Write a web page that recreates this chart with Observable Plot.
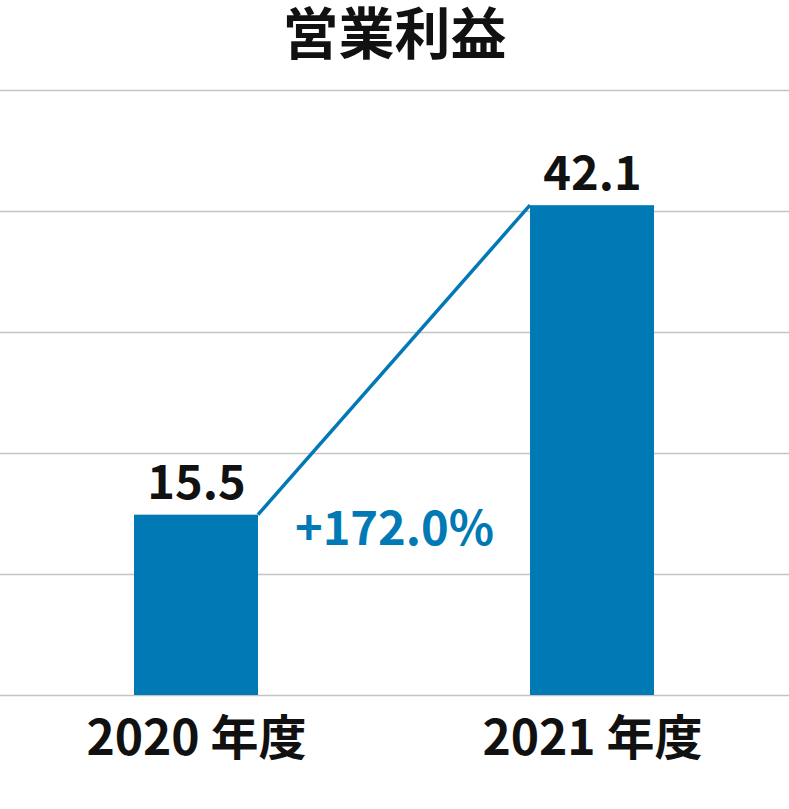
<!DOCTYPE html>
<html>
<head>
<meta charset="utf-8">
<script src="https://cdn.jsdelivr.net/npm/d3@7"></script>
<script src="https://cdn.jsdelivr.net/npm/@observablehq/plot@0.6"></script>
<style>
  html, body { margin: 0; padding: 0; background: #fff; }
  #wrap { width: 789px; font-family: "Noto Sans CJK JP", "Noto Sans", sans-serif; }
  #title { height: 68px; line-height: 60px; text-align: center; font-size: 56px; font-weight: bold; color: #111; overflow: visible; }
</style>
</head>
<body>
<div id="wrap">
  <div id="title">営業利益</div>
  <div id="chart"></div>
</div>
<script>
const title = "営業利益";
const years = ["2020 年度", "2021 年度"];
const values = [15.5, 42.1];
const gridTicks = [0, 10.4, 20.8, 31.2, 41.6, 52];
const growthLabel = "+172.0%";

const data = years.map((y, i) => ({year: y, value: values[i]}));
const blue = "#0079b5";

const chart = Plot.plot({
  width: 789,
  height: 741,
  marginTop: 22,
  marginBottom: 114,
  marginLeft: 0,
  marginRight: 0,
  style: {fontFamily: "'Noto Sans CJK JP', 'Noto Sans', sans-serif", background: "white", overflow: "visible"},
  x: {domain: years, type: "band", paddingInner: 0.686, paddingOuter: 0.339, label: null},
  y: {domain: [0, 52], axis: null},
  marks: [
    Plot.ruleY(gridTicks, {stroke: "#c4c4c4", strokeWidth: 1.5}),
    Plot.barY(data, {x: "year", y: "value", fill: blue}),
    Plot.text(data, {x: "year", y: "value", text: d => d.value.toFixed(1), dy: -31, fontSize: 47, fontWeight: "bold", fill: "#111"}),
    Plot.text([growthLabel], {x: () => years[0], y: () => values[0], text: d => d, dx: 198, dy: 15, fontSize: 47, fontWeight: "bold", fill: blue}),
    Plot.axisX({tickSize: 0, tickPadding: 25, fontSize: 48, fontWeight: "bold", fill: "#111", label: null})
  ]
});

document.getElementById("chart").appendChild(chart);

// connector line from top-right of first bar to top-left of second bar, via Plot's scales
const xs = chart.scale("x");
const ys = chart.scale("y");
d3.select(chart).append("line")
  .attr("x1", xs.apply(years[0]) + xs.bandwidth)
  .attr("y1", ys.apply(values[0]))
  .attr("x2", xs.apply(years[1]))
  .attr("y2", ys.apply(values[1]))
  .attr("stroke", blue)
  .attr("stroke-width", 3.5);
</script>
</body>
</html>
